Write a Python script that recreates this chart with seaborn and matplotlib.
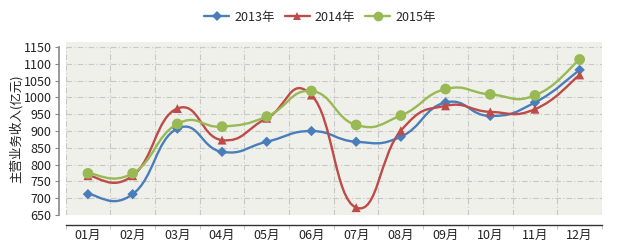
import numpy as np
import pandas as pd
import matplotlib
matplotlib.use("Agg")
import matplotlib.pyplot as plt
from matplotlib.path import Path
from matplotlib.patches import PathPatch
from matplotlib.lines import Line2D
import seaborn as sns

months = ["01月", "02月", "03月", "04月", "05月", "06月", "07月", "08月", "09月", "10月", "11月", "12月"]
v2013 = [712, 712, 907, 838, 868, 900, 868, 883, 985, 945, 985, 1082]
v2014 = [767, 767, 967, 873, 938, 1007, 672, 901, 975, 957, 965, 1067]
v2015 = [774, 774, 921, 913, 943, 1019, 918, 946, 1025, 1009, 1006, 1113]
series_names = ["2013年", "2014年", "2015年"]
colors = ["#4A7EBB", "#BE4B48", "#98B954"]
markers = ["D", "^", "o"]
msizes = [28, 42, 60]

sns.set_theme(style="white")
plt.rcParams['font.family'] = ['Noto Sans CJK SC', 'DejaVu Sans']
plt.rcParams['axes.unicode_minus'] = False

fig = plt.figure(figsize=(6.4, 2.47), dpi=100)
ax = fig.add_axes([65.6 / 640, 32 / 247, 536.4 / 640, 173 / 247])
ax.set_facecolor("#F0F0EA")

x = np.arange(len(months))
rows = []
for name, vals in zip(series_names, [v2013, v2014, v2015]):
    for i, v in enumerate(vals):
        rows.append({"month": i, "value": v, "series": name})
df = pd.DataFrame(rows)


def smooth_path(xs, ys, k=0.24):
    pts = np.column_stack([xs, ys]).astype(float)
    n = len(pts)
    verts = [pts[0]]
    codes = [Path.MOVETO]
    for i in range(n - 1):
        p0 = pts[i - 1] if i > 0 else pts[i]
        p1 = pts[i]
        p2 = pts[i + 1]
        p3 = pts[i + 2] if i + 2 < n else pts[i + 1]
        c1 = p1 + (p2 - p0) * k
        c2 = p2 - (p3 - p1) * k
        verts += [c1, c2, p2]
        codes += [Path.CURVE4] * 3
    return Path(verts, codes)


for name, vals, c in zip(series_names, [v2013, v2014, v2015], colors):
    patch = PathPatch(smooth_path(x, vals), facecolor="none", edgecolor=c, lw=1.7, zorder=3)
    ax.add_patch(patch)

sns.scatterplot(data=df, x="month", y="value", hue="series", style="series",
                palette=dict(zip(series_names, colors)),
                markers=dict(zip(series_names, markers)),
                size="series", sizes=dict(zip(series_names, msizes)),
                edgecolor="none", legend=False, ax=ax, zorder=4)

ax.set_xlim(-0.5, len(months) - 0.5)
ax.set_ylim(650, 1165)
ax.set_yticks(np.arange(650, 1151, 50))
ax.set_xticks(x)
ax.set_xticklabels(months)
ax.set_xticks(np.arange(-0.5, len(months), 1.0), minor=True)

grid_kw = dict(color="#C8C8C8", lw=0.8, ls=(0, (5, 2, 1, 2)), zorder=1)
for yv in np.arange(650, 1151, 50):
    if yv > 650:
        ax.axhline(yv, **grid_kw)
for xv in np.arange(-0.5, len(months), 1.0):
    ax.plot([xv, xv], [650, 1150], **grid_kw)

for s in ["top", "right"]:
    ax.spines[s].set_visible(False)
ax.spines["left"].set_position(("outward", 5))
ax.spines["left"].set_bounds(650, 1150)
ax.spines["left"].set_color("#888888")
ax.spines["left"].set_linewidth(1.2)
ax.spines["bottom"].set_position(("outward", 7))
ax.spines["bottom"].set_color("#333333")
ax.spines["bottom"].set_linewidth(1.0)

ax.tick_params(axis="y", which="major", length=3, width=0.8, color="#888888",
               labelsize=9, labelcolor="#222222", pad=2, left=True)
ax.tick_params(axis="x", which="major", length=0, labelsize=9, labelcolor="#222222", pad=3)
ax.tick_params(axis="x", which="minor", length=3, width=0.6, color="#BBBBBB", bottom=True)
ax.set_xlabel("")
ax.set_ylabel("主营业务收入(亿元)", fontsize=9, color="#222222", labelpad=1)

handles = [Line2D([0], [0], color=c, lw=1.7, marker=m, markersize=ms, markeredgewidth=0)
           for c, m, ms in zip(colors, markers, [5, 6, 7])]
fig.legend(handles, series_names, loc="center", bbox_to_anchor=(0.5, 1 - 17 / 247),
           ncol=3, frameon=False, fontsize=9, handlelength=2.0, handletextpad=0.4,
           columnspacing=0.8)

fig.savefig("out.png", dpi=100, facecolor="white")
